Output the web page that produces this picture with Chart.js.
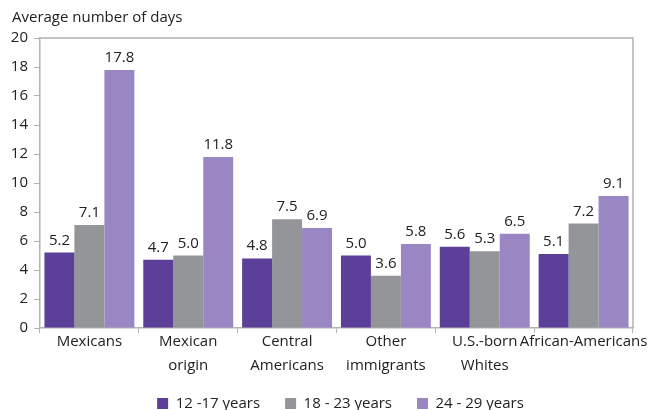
<!DOCTYPE html>
<html><head><meta charset="utf-8">
<script src="https://cdn.jsdelivr.net/npm/chart.js@4"></script>
<style>html,body{margin:0;padding:0;background:#fff}#w{width:650px;height:410px}</style>
</head><body><div id="w"><canvas id="c" width="650" height="410"></canvas></div>
<script>
const categories = [["Mexicans"],["Mexican","origin"],["Central","Americans"],["Other","immigrants"],["U.S.-born","Whites"],["African-Americans"]];
const seriesNames = ["12 -17 years","18 - 23 years","24 - 29 years"];
const s1 = [5.2,4.7,4.8,5.0,5.6,5.1];
const s2 = [7.1,5.0,7.5,3.6,5.3,7.2];
const s3 = [17.8,11.8,6.9,5.8,6.5,9.1];
const yTicks = [0,2,4,6,8,10,12,14,16,18,20];
const colors = ["#5b3f98","#939598","#9a86c2"];
const FONT = "'Open Sans', 'Noto Sans', sans-serif";

const labelPlugin = {
  id:'labels',
  afterLayout(chart){
    const lg = chart.legend;
    if (lg){ lg.left += 24; lg.right += 24; lg.top -= 4; lg.bottom -= 4; }
  },
  afterDatasetsDraw(chart){
    const ctx = chart.ctx;
    ctx.save();
    ctx.font = "15px " + FONT;
    ctx.fillStyle = "#222";
    ctx.textAlign = "center";
    ctx.textBaseline = "alphabetic";
    chart.data.datasets.forEach((ds,i)=>{
      chart.getDatasetMeta(i).data.forEach((bar,j)=>{
        ctx.fillText(ds.data[j].toFixed(1), bar.x, bar.y - 8);
      });
    });
    const a = chart.chartArea;
    ctx.strokeStyle = "#b3b3b3";
    ctx.lineWidth = 1.5;
    ctx.beginPath();
    ctx.moveTo(a.left, a.top); ctx.lineTo(a.right, a.top); ctx.lineTo(a.right, a.bottom);
    ctx.stroke();
    ctx.font = "15px " + FONT;
    ctx.textAlign = "left";
    ctx.textBaseline = "alphabetic";
    ctx.fillText("Average number of days", 12, 22);
    ctx.restore();
  }
};

new Chart(document.getElementById('c'), {
  type:'bar',
  data:{
    labels: categories,
    datasets: seriesNames.map((n,i)=>({label:n, data:[s1,s2,s3][i], backgroundColor:colors[i], borderWidth:0, categoryPercentage:0.91, barPercentage:1}))
  },
  options:{
    responsive:false, animation:false,
    layout:{padding:{top:38,right:17,left:0,bottom:-15}},
    plugins:{
      legend:{position:'bottom', labels:{font:{family:FONT,size:15}, color:'#222', boxWidth:11, boxHeight:11, padding:25}},
      tooltip:{enabled:false}
    },
    scales:{
      x:{
        grid:{drawOnChartArea:false, drawTicks:true, tickLength:5, color:'#b3b3b3', offset:true},
        border:{color:'#b3b3b3', width:1.5},
        ticks:{font:{family:FONT,size:15, lineHeight:1.6}, color:'#222', maxRotation:0, autoSkip:false, padding:-3}
      },
      y:{
        min:0, max:20,
        afterBuildTicks(ax){ ax.ticks = yTicks.map(v=>({value:v})); },
        afterFit(s){ s.width = 40; },
        grid:{drawOnChartArea:false, drawTicks:true, tickLength:6, color:'#b3b3b3'},
        border:{color:'#b3b3b3', width:1.5},
        ticks:{font:{family:FONT,size:15}, color:'#222', padding:6}
      }
    }
  },
  plugins:[labelPlugin]
});
</script></body></html>
